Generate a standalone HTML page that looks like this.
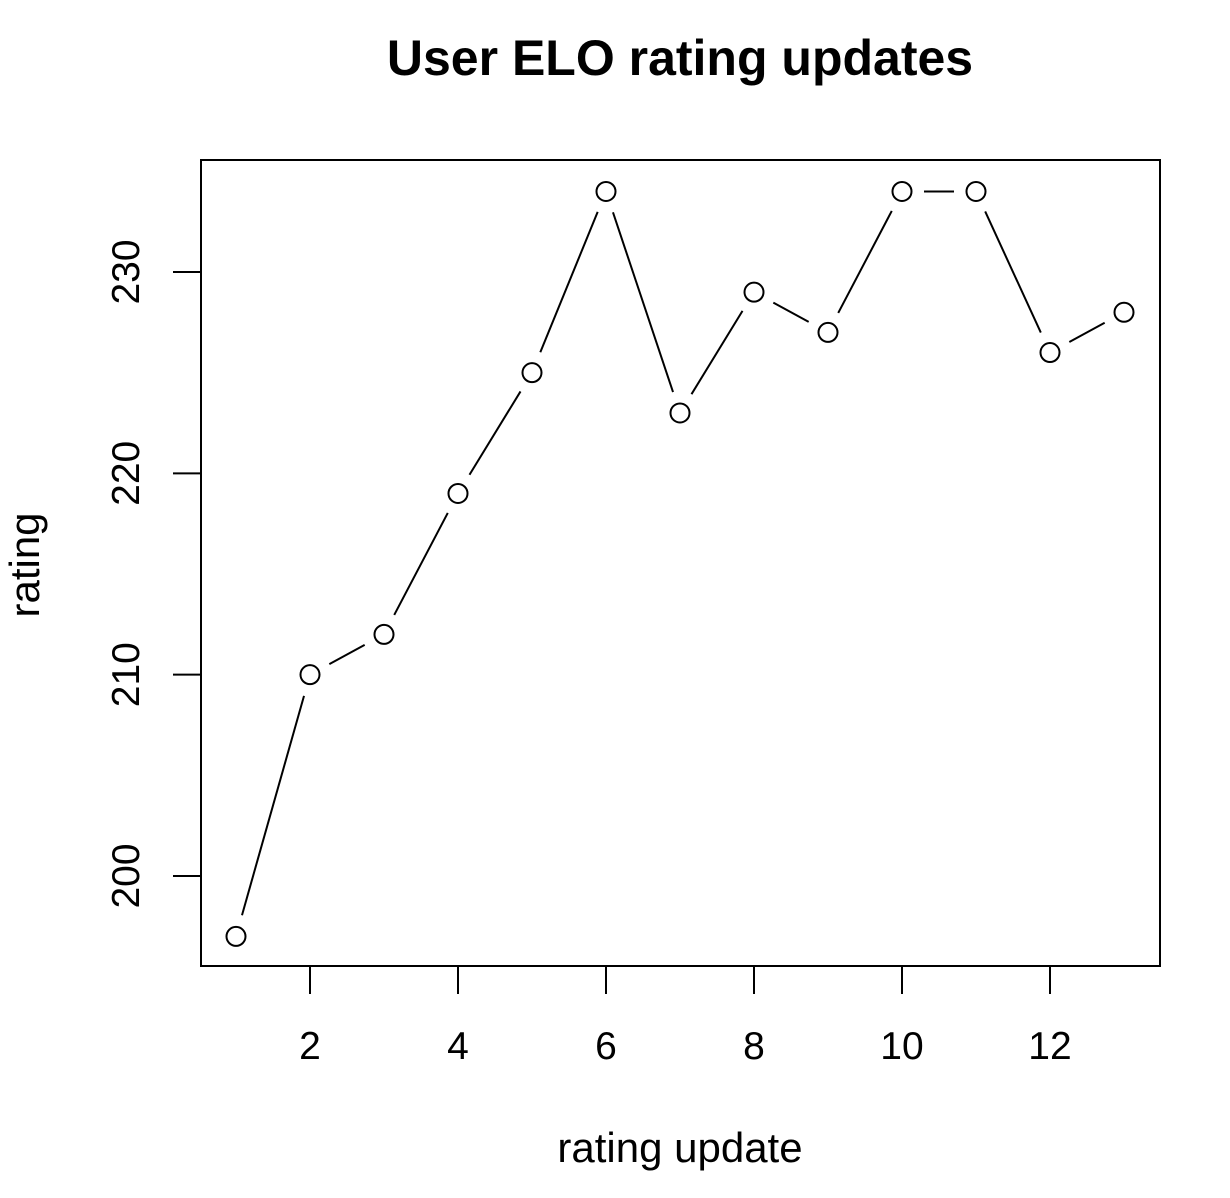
<!DOCTYPE html>
<html><head><meta charset="utf-8"><style>
body{margin:0;background:#fff}
svg{display:block}
text{font-family:"Liberation Sans",Arial,sans-serif;fill:#000}
</style></head><body>
<svg id="chart" width="1230" height="1198" viewBox="0 0 1230 1198" xmlns="http://www.w3.org/2000/svg">
<text x="680" y="75" text-anchor="middle" font-size="50" font-weight="bold">User ELO rating updates</text>
<rect x="201" y="160" width="959" height="806" fill="none" stroke="#000" stroke-width="2"/>
<text x="680" y="1162" text-anchor="middle" font-size="42">rating update</text>
<text transform="translate(39,565) rotate(-90)" text-anchor="middle" font-size="42">rating</text>
<g id="marks"></g>
</svg>
<script>
const categories=[1,2,3,4,5,6,7,8,9,10,11,12,13];
const ratings=[197,210,212,219,225,234,223,229,227,234,234,226,228];
const xTicks=[2,4,6,8,10,12];
const yTicks=[200,210,220,230];
const NS="http://www.w3.org/2000/svg";
const g=document.getElementById('marks');
function xs(v){return 236+(v-1)*74;}
function ys(v){return 876-(v-200)*20.133;}
function mk(tag,attrs){const e=document.createElementNS(NS,tag);for(const k in attrs)e.setAttribute(k,attrs[k]);g.appendChild(e);return e;}
xTicks.forEach(t=>{
  const l=mk('line',{x1:xs(t),x2:xs(t),y1:966,y2:994,stroke:'#000','stroke-width':2});
  
  
  const tx=mk('text',{x:xs(t),y:1059,'text-anchor':'middle','font-size':39});
  tx.textContent=t;
  
  
});
yTicks.forEach(t=>{
  const l=mk('line',{x1:173,x2:201,y1:ys(t),y2:ys(t),stroke:'#000','stroke-width':2});
  
  
  const tx=mk('text',{transform:`translate(139,${ys(t)}) rotate(-90)`,'text-anchor':'middle','font-size':39});
  tx.textContent=t;
  
  
});
const gap=22;
for(let i=0;i<ratings.length-1;i++){
  const x1=xs(categories[i]),y1=ys(ratings[i]),x2=xs(categories[i+1]),y2=ys(ratings[i+1]);
  const d=Math.hypot(x2-x1,y2-y1);
  if(d<=2*gap)continue;
  const ux=(x2-x1)/d,uy=(y2-y1)/d;
  const l=mk('line',{x1:x1+ux*gap,y1:y1+uy*gap,x2:x2-ux*gap,y2:y2-uy*gap,stroke:'#000','stroke-width':2});
  
  
}
ratings.forEach((v,i)=>{
  const c=mk('circle',{cx:xs(categories[i]),cy:ys(v),r:9.5,fill:'#fff',stroke:'#000','stroke-width':2});
  
  
});
</script>
</body></html>
